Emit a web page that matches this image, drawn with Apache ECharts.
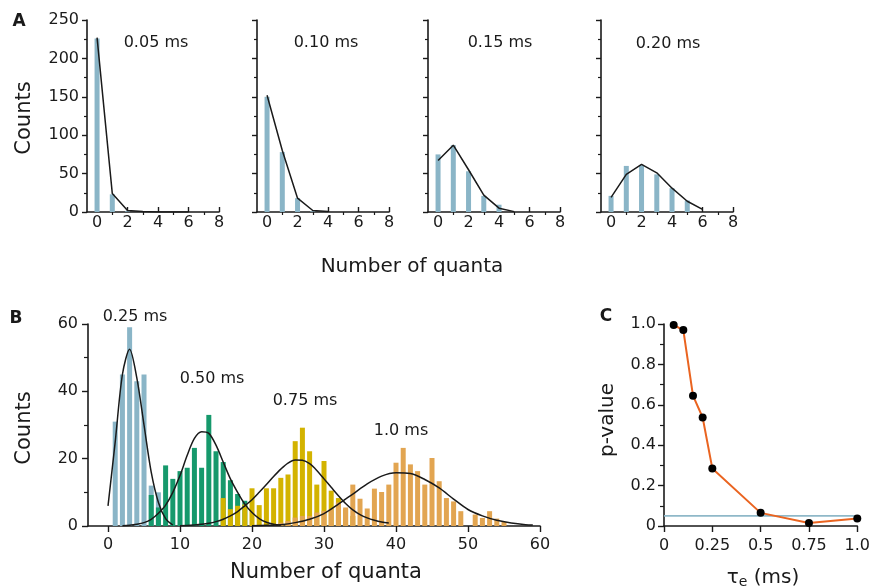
<!DOCTYPE html>
<html>
<head>
<meta charset="utf-8">
<script src="https://cdn.jsdelivr.net/npm/echarts@6/dist/echarts.min.js"></script>
<style>html,body{margin:0;padding:0;background:#fff}#c{width:873px;height:587px}</style>
</head>
<body>
<div id="c"></div>
<script>
// ---------- Panel A data ----------
const quantaA = [0, 1, 2, 3, 4, 5, 6];
const countsA005 = [226, 23, 1];
const fitA005 = [227, 24, 2, 0.5, 0, 0, 0];
const countsA010 = [150, 78, 18, 1];
const fitA010 = [152, 80, 18, 2, 0.5];
const countsA015 = [75, 87, 53, 21, 9.5];
const fitA015 = [67, 87, 55, 22, 5, 0.5];
const countsA020 = [21, 60, 61, 49, 31, 15];
const fitA020 = [19, 49, 62, 51, 31, 14, 3.5];
const labelsA = ['0.05 ms', '0.10 ms', '0.15 ms', '0.20 ms'];
const ticksAx = [0, 2, 4, 6, 8];
const minorAx = [1, 3, 5, 7];

// ---------- Panel B data ----------
const quantaB025 = [1, 2, 3, 4, 5, 6, 7];
const countsB025 = [31, 45, 59, 43, 45, 12, 10];
const quantaB050 = [6, 7, 8, 9, 10, 11, 12, 13, 14, 15, 16, 17, 18, 19];
const countsB050 = [9.2, 5.5, 18, 14, 16.3, 17.3, 23.2, 17.3, 33, 22.2, 19, 13.6, 9.5, 7.5];
const quantaB075 = [16, 17, 18, 19, 20, 21, 22, 23, 24, 25, 26, 27, 28, 29, 30, 31, 32, 33, 34];
const countsB075 = [8.3, 5, 6, 6.4, 11.2, 6.2, 11.2, 11.2, 14.3, 15.3, 25.2, 29.2, 22.2, 12.3, 19.3, 10.5, 8.3, 5, 3];
const quantaB100 = [24, 25, 26, 27, 28, 29, 30, 31, 32, 33, 34, 35, 36, 37, 38, 39, 40, 41, 42, 43, 44, 45, 46, 47, 48, 49, 51, 52, 53, 54, 55];
const countsB100 = [1, 1.5, 2.5, 3, 3, 4, 4.5, 5, 7, 5.5, 12.3, 8.1, 5.2, 11.1, 10.1, 12.3, 18.8, 23.2, 18.3, 16.3, 12.3, 20.2, 13.3, 8.3, 7.3, 4.4, 3.4, 2.4, 4.4, 2.2, 1.2];

const fitX025 = [0, 1, 2, 3, 4, 5, 6, 7, 8, 9];
const fitY025 = [6, 25, 45, 52.5, 44, 30, 16, 7, 2.2, 0.3];
const fitX050 = [2, 3, 4, 5, 6, 7, 8, 9, 10, 11, 12, 13, 14, 15, 16, 17, 18, 19, 20, 21, 22, 23, 24];
const fitY050 = [0.1, 0.2, 0.5, 1, 2, 3.8, 6.2, 10, 15, 21, 26, 28, 27.5, 24, 19, 14, 10, 6.5, 4, 2.2, 1.1, 0.5, 0.2];
const fitX075 = [10, 11, 12, 13, 14, 15, 16, 17, 18, 19, 20, 21, 22, 23, 24, 25, 26, 27, 28, 29, 30, 31, 32, 33, 34, 35, 36, 37, 38, 39];
const fitY075 = [0.1, 0.15, 0.3, 0.5, 0.8, 1.3, 2, 3, 4.3, 6, 7.8, 10, 12.3, 14.7, 16.9, 18.7, 19.6, 19.5, 18.5, 16.5, 14, 11.5, 9, 6.7, 4.8, 3.4, 2.4, 1.7, 1.2, 0.9];
const fitX100 = [20, 22, 24, 26, 28, 30, 32, 34, 36, 38, 40, 42, 44, 46, 48, 50, 52, 54, 56, 58, 59];
const fitY100 = [0.1, 0.2, 0.4, 1, 2, 3.7, 6.5, 9.5, 12.5, 14.8, 15.8, 15.6, 13.8, 11.3, 8, 4.9, 3, 1.7, 0.9, 0.4, 0.3];
const ticksBx = [0, 10, 20, 30, 40, 50, 60];

// ---------- Panel C data ----------
const tauE = [0.05, 0.1, 0.15, 0.2, 0.25, 0.5, 0.75, 1.0];
const pValue = [0.995, 0.97, 0.645, 0.537, 0.285, 0.065, 0.015, 0.037];
const thresholdX = [0, 1.0];
const thresholdY = [0.05, 0.05];

// ---------- styles ----------
const FONT = 'DejaVu Sans';
const INK = '#1a1a1a';
const BLUE = '#8ab5c7';
const GREEN = '#16996c';
const YELLOW = '#d3b300';
const ORANGE = '#e2a551';
const LINEOR = '#ea6420';

const pairs = (xs, ys) => ys.map((v, i) => [xs[i], v]);
const axisLine = { show: true, onZero: false, lineStyle: { color: INK, width: 1.6 } };
const lbl = { color: INK, fontFamily: FONT, fontSize: 16 };

const grids = [], xAxes = [], yAxes = [], series = [];
const aLefts = [87, 257, 428, 601];
const aCounts = [countsA005, countsA010, countsA015, countsA020];
const aFits = [fitA005, fitA010, fitA015, fitA020];

aLefts.forEach((l, i) => {
  grids.push({ left: l, top: 20, width: 132, height: 192 });
  xAxes.push({
    type: 'value', gridIndex: i, min: -0.66, max: 8,
    axisLine, splitLine: { show: false },
    axisTick: { show: true, inside: true, length: 5, customValues: ticksAx, lineStyle: { color: INK, width: 1.4 } },
    axisLabel: Object.assign({ customValues: ticksAx, margin: 3 }, lbl)
  });
  yAxes.push({
    type: 'value', gridIndex: i, min: 0, max: 250, interval: 50,
    axisLine, splitLine: { show: false },
    axisTick: { show: true, length: 5, lineStyle: { color: INK, width: 1.4 } },
    minorTick: { show: true, splitNumber: 2, length: 3, lineStyle: { color: INK, width: 1.2 } },
    axisLabel: Object.assign({ show: i === 0, margin: 8 }, lbl)
  });
});
aLefts.forEach((l, i) => {
  xAxes.push({
    type: 'value', gridIndex: i, min: -0.66, max: 8,
    axisLine: { show: false }, splitLine: { show: false },
    axisTick: { show: true, inside: true, length: 3, customValues: minorAx, lineStyle: { color: INK, width: 1.2 } },
    axisLabel: { show: false }
  });
});
aLefts.forEach((l, i) => {
  series.push({
    type: 'bar', xAxisIndex: i, yAxisIndex: i, barWidth: 5,
    itemStyle: { color: BLUE },
    data: pairs(quantaA, aCounts[i]), silent: true
  });
  series.push({
    type: 'line', xAxisIndex: i, yAxisIndex: i, showSymbol: false, symbol: 'none', z: 5,
    lineStyle: { color: INK, width: 1.5 },
    data: pairs(quantaA, aFits[i]), silent: true
  });
});

// Panel B
grids.push({ left: 88, top: 324, width: 452, height: 202 });
xAxes.push({
  type: 'value', gridIndex: 4, min: -2.78, max: 60,
  axisLine, splitLine: { show: false },
  axisTick: { show: true, length: 6, customValues: ticksBx, lineStyle: { color: INK, width: 1.4 } },
  axisLabel: Object.assign({ customValues: ticksBx, margin: 11 }, lbl)
});
yAxes.push({
  type: 'value', gridIndex: 4, min: 0, max: 60, interval: 20,
  axisLine, splitLine: { show: false },
  axisTick: { show: true, length: 6, lineStyle: { color: INK, width: 1.4 } },
  minorTick: { show: true, splitNumber: 2, length: 4, lineStyle: { color: INK, width: 1.2 } },
  axisLabel: Object.assign({ margin: 10 }, lbl)
});
[[quantaB025, countsB025, BLUE], [quantaB050, countsB050, GREEN], [quantaB075, countsB075, YELLOW], [quantaB100, countsB100, ORANGE]].forEach(([xs, ys, c]) => {
  series.push({
    type: 'bar', xAxisIndex: 8, yAxisIndex: 4, barWidth: 5, barGap: '-100%',
    itemStyle: { color: c }, data: pairs(xs, ys), silent: true
  });
});
[[fitX025, fitY025], [fitX050, fitY050], [fitX075, fitY075], [fitX100, fitY100]].forEach(([xs, ys]) => {
  series.push({
    type: 'line', xAxisIndex: 8, yAxisIndex: 4, showSymbol: false, symbol: 'none', smooth: 0.3, z: 5,
    lineStyle: { color: INK, width: 1.5 }, data: pairs(xs, ys), silent: true
  });
});

// Panel C
grids.push({ left: 664, top: 324, width: 195, height: 202 });
xAxes.push({
  type: 'value', gridIndex: 5, min: 0, max: 1, interval: 0.25,
  axisLine, splitLine: { show: false },
  axisTick: { show: true, length: 6, lineStyle: { color: INK, width: 1.4 } },
  axisLabel: Object.assign({ margin: 12, formatter: v => v === 0 ? '0' : (v === 1 ? '1.0' : String(v)) }, lbl)
});
yAxes.push({
  type: 'value', gridIndex: 5, min: 0, max: 1, interval: 0.2,
  axisLine, splitLine: { show: false },
  axisTick: { show: true, length: 6, lineStyle: { color: INK, width: 1.4 } },
  minorTick: { show: true, splitNumber: 2, length: 4, lineStyle: { color: INK, width: 1.2 } },
  axisLabel: Object.assign({ margin: 8, formatter: v => v === 0 ? '0' : v.toFixed(1) }, lbl)
});
series.push({
  type: 'line', xAxisIndex: 9, yAxisIndex: 5, showSymbol: false, symbol: 'none',
  lineStyle: { color: '#8fb8c8', width: 1.6 }, data: pairs(thresholdX, thresholdY), silent: true, z: 3
});
series.push({
  type: 'line', xAxisIndex: 9, yAxisIndex: 5, symbol: 'circle', symbolSize: 8, z: 5,
  lineStyle: { color: LINEOR, width: 2 }, itemStyle: { color: '#000', borderWidth: 0 },
  data: pairs(tauE, pValue), silent: true
});

const txt = (text, x, y, size, extra) => Object.assign({
  type: 'text', x, y, silent: true,
  style: Object.assign({ text, fill: INK, font: (extra && extra.bold ? 'bold ' : '') + size + 'px "' + FONT + '"', textAlign: 'center', textVerticalAlign: 'middle' }, extra && extra.style)
}, extra && extra.el);

const graphic = [
  txt('A', 19, 22, 17, { bold: true }),
  txt('B', 16, 319, 17, { bold: true }),
  txt('C', 606, 317, 17, { bold: true }),
  txt(labelsA[0], 156, 43, 16),
  txt(labelsA[1], 326, 43, 16),
  txt(labelsA[2], 500, 43, 16),
  txt(labelsA[3], 668, 44, 16),
  txt('Counts', 25, 118, 21, { el: { rotation: Math.PI / 2 } }),
  txt('Number of quanta', 412, 267, 20),
  txt('0.25 ms', 135, 317, 16),
  txt('0.50 ms', 212, 379, 16),
  txt('0.75 ms', 305, 401, 16),
  txt('1.0 ms', 401, 431, 16),
  txt('Counts', 25, 428, 21, { el: { rotation: Math.PI / 2 } }),
  txt('Number of quanta', 326, 573, 21),
  txt('p-value', 608, 420, 20, { el: { rotation: Math.PI / 2 } }),
  {
    type: 'text', x: 763, y: 578, silent: true,
    style: {
      text: '{t|τ}{s|e}{t| (ms)}', textAlign: 'center', textVerticalAlign: 'middle', fill: INK,
      rich: {
        t: { fontFamily: FONT, fontSize: 20, fill: INK, color: INK },
        s: { fontFamily: FONT, fontSize: 14, fill: INK, color: INK, padding: [8, 0, 0, 0] }
      }
    }
  }
];

const chart = echarts.init(document.getElementById('c'), null, { renderer: 'canvas' });
chart.setOption({
  animation: false,
  textStyle: { fontFamily: FONT },
  grid: grids, xAxis: xAxes, yAxis: yAxes, series, graphic
});
</script>
</body>
</html>
